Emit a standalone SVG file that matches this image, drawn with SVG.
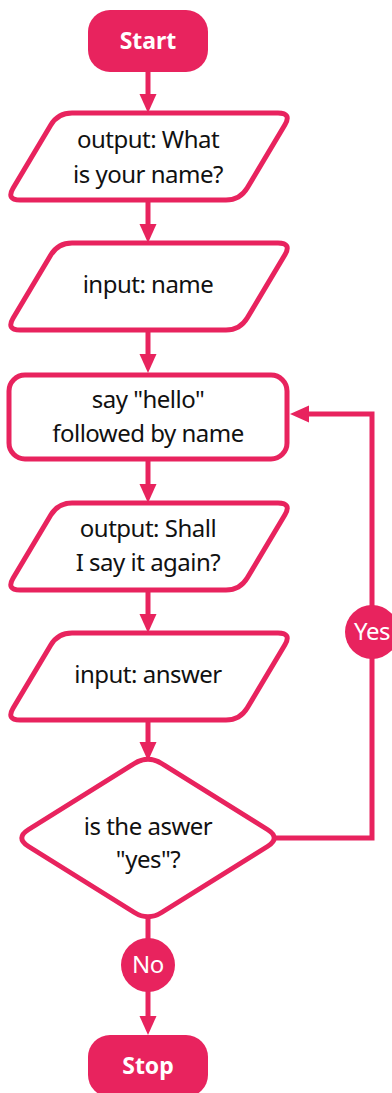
<svg xmlns="http://www.w3.org/2000/svg" xmlns:xlink="http://www.w3.org/1999/xlink" width="392" height="1093" viewBox="0 0 392 1093">
<style>
.shape{fill:#fff;stroke:#E8235E;stroke-width:5;stroke-linejoin:round}
.term{fill:#E8235E}
.line{fill:none;stroke:#E8235E;stroke-width:5}
.head{fill:#E8235E}
.t{font-family:"Noto Sans","Open Sans",sans-serif;font-size:24px;fill:#111;text-anchor:middle;letter-spacing:-0.5px}
.w{font-family:"Noto Sans","Open Sans",sans-serif;font-size:23px;fill:#fff;text-anchor:middle;font-weight:bold}
.wl{font-family:"Noto Sans","Open Sans",sans-serif;font-size:24px;fill:#fff;text-anchor:middle;letter-spacing:-0.5px}
</style>
<defs>
<path id="para" d="M72,0 L278,0 Q292,0 284.8,12 L247.2,75 Q240,87 226,87 L20,87 Q6,87 13.2,75 L50.8,12 Q58,0 72,0 Z"/>
<path id="down" d="M-8.5,-19 L8.5,-19 L0,0 Z"/>
</defs>
<g id="connectors">
<line class="line" x1="148" y1="72" x2="148" y2="96"/><use href="#down" class="head" x="148" y="113"/>
<line class="line" x1="148" y1="200" x2="148" y2="226"/><use href="#down" class="head" x="148" y="243"/>
<line class="line" x1="148" y1="330" x2="148" y2="356"/><use href="#down" class="head" x="148" y="373"/>
<line class="line" x1="148" y1="460" x2="148" y2="486"/><use href="#down" class="head" x="148" y="503"/>
<line class="line" x1="148" y1="590" x2="148" y2="616"/><use href="#down" class="head" x="148" y="633"/>
<line class="line" x1="148" y1="720" x2="148" y2="744"/><use href="#down" class="head" x="148" y="761"/>
<line class="line" x1="148" y1="915" x2="148" y2="1018"/><use href="#down" class="head" x="148" y="1035"/>
<path class="line" d="M272,838 H372 V414 H306"/>
<path class="head" d="M290,414 L309,405.5 L309,422.5 Z"/>
</g>
<g id="start"><rect class="term" x="88" y="10" width="120" height="62" rx="22"/><text class="w" x="148" y="49">Start</text></g>
<g id="output1"><use href="#para" class="shape" y="113"/><text class="t" x="148" y="148">output: What</text><text class="t" x="148" y="183">is your name?</text></g>
<g id="input1"><use href="#para" class="shape" y="243"/><text class="t" x="148" y="293">input: name</text></g>
<g id="say"><rect class="shape" x="9" y="375" width="278" height="84" rx="16"/><text class="t" x="148" y="408">say "hello"</text><text class="t" x="148" y="442">followed by name</text></g>
<g id="output2"><use href="#para" class="shape" y="503"/><text class="t" x="148" y="537">output: Shall</text><text class="t" x="148" y="571">I say it again?</text></g>
<g id="input2"><use href="#para" class="shape" y="633"/><text class="t" x="148" y="683">input: answer</text></g>
<g id="decision"><path class="shape" d="M134.4,763.5 Q148,755 161.6,763.5 L267.4,829.5 Q281,838 267.4,846.5 L161.6,912.5 Q148,921 134.4,912.5 L28.6,846.5 Q15,838 28.6,829.5 Z"/><text class="t" x="148" y="835">is the aswer</text><text class="t" x="148" y="868">"yes"?</text></g>
<g id="yes"><circle class="term" cx="372" cy="632" r="27"/><text class="wl" x="372" y="640">Yes</text></g>
<g id="no"><circle class="term" cx="148" cy="965" r="27"/><text class="wl" x="148" y="973">No</text></g>
<g id="stop"><rect class="term" x="88" y="1035" width="120" height="62" rx="22"/><text class="w" x="148" y="1074">Stop</text></g>
</svg>
